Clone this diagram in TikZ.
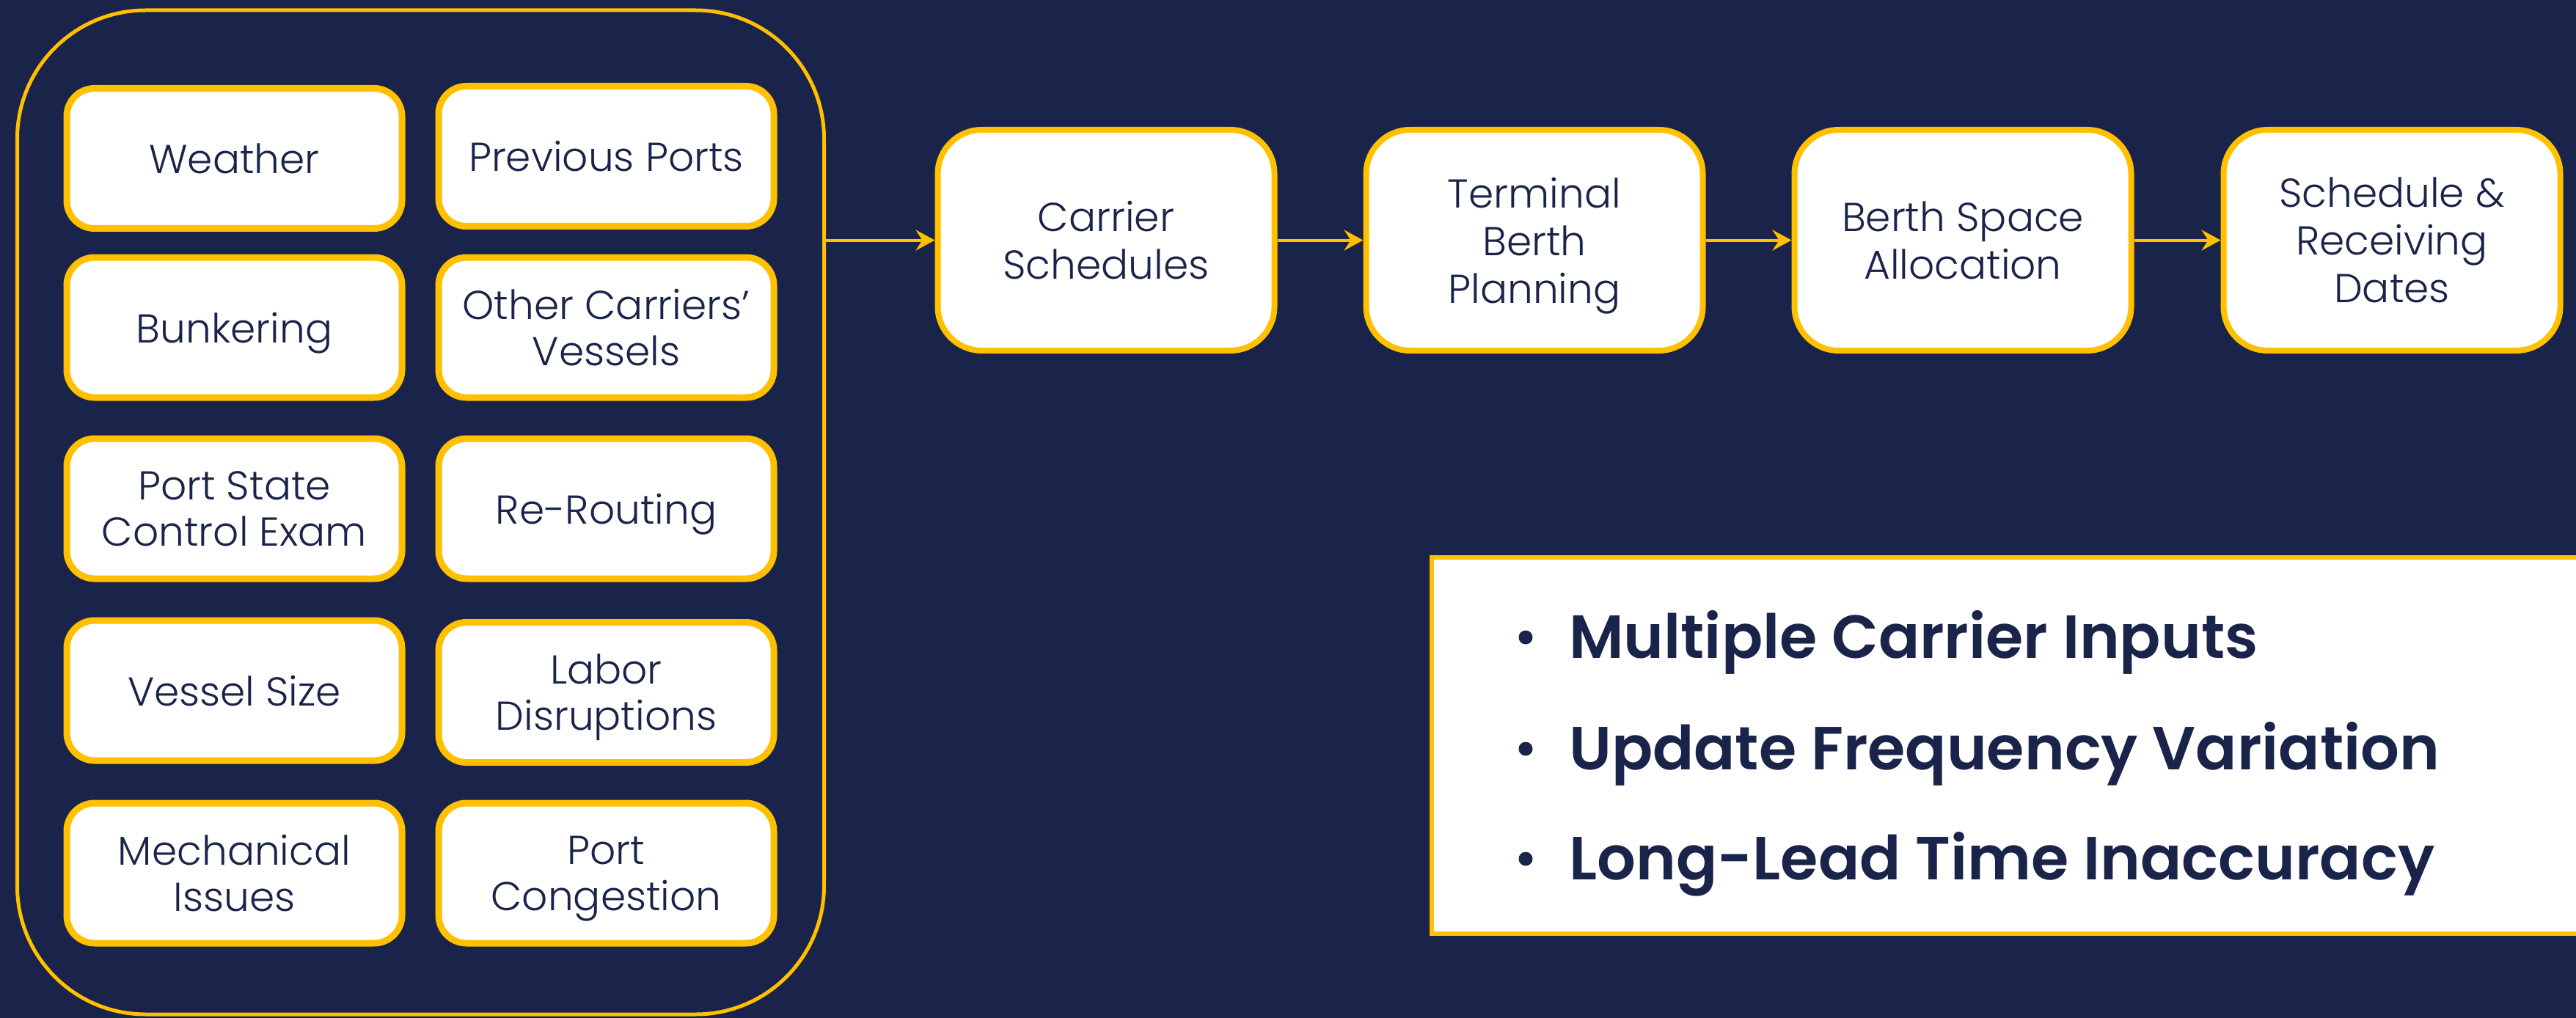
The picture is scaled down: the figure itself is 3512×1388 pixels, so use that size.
\documentclass[tikz,border=0pt]{standalone}
\usepackage{fontspec}
\setmainfont{Poppins}[UprightFont=* Light, BoldFont=* SemiBold]
\usetikzlibrary{arrows.meta}
\definecolor{navy}{HTML}{1A2349}
\definecolor{gold}{HTML}{FFC000}
\tikzset{
  factor/.style={draw=gold, line width=9pt, fill=white, rounded corners=38pt,
    minimum width=457pt, minimum height=191pt, text=navy, align=center,
    font=\fontsize{55}{63}\selectfont, inner sep=0pt, text depth=0pt},
  flowbox/.style={draw=gold, line width=8pt, fill=white, rounded corners=60pt,
    minimum width=459pt, minimum height=301pt, text=navy, align=center,
    font=\fontsize{55}{65}\selectfont, inner sep=0pt, text depth=0pt},
  flowarrow/.style={draw=gold, line width=4pt, -{Stealth[length=26pt, width=28pt, inset=9pt]}},
  bullettext/.style={anchor=base west, text=navy, inner sep=0pt,
    font=\fontsize{83}{90}\selectfont\bfseries},
  bulletdot/.style={circle, fill=navy, minimum size=19pt, inner sep=0pt}
}
\begin{document}
\begin{tikzpicture}[x=1pt, y=-1pt]
\useasboundingbox (0,0) rectangle (3512,1388);
\fill[navy] (0,0) rectangle (3512,1388);
% container
\node[draw=gold, line width=5pt, rounded corners=175pt, minimum width=1100pt, minimum height=1369pt, inner sep=0pt] (cont) at (573.5,698.5) {};
% factor boxes
\node[factor] (weather) at (319.5,216) {Weather};
\node[factor] (prev) at (826.5,213) {Previous Ports};
\node[factor] (bunk) at (319.5,446.5) {Bunkering};
\node[factor] (other) at (826.5,446.5) {Other Carriers’\\Vessels};
\node[factor] (psc) at (319.5,693.5) {Port State\\Control Exam};
\node[factor] (rerout) at (826.5,693.5) {Re-Routing};
\node[factor] (vsize) at (319.5,941.5) {Vessel Size};
\node[factor] (labor) at (826.5,944) {Labor\\Disruptions};
\node[factor] (mech) at (319.5,1190.5) {Mechanical\\Issues};
\node[factor] (cong) at (826.5,1190.5) {Port\\Congestion};
% flow boxes
\node[flowbox] (cs) at (1508,327.5) {Carrier\\Schedules};
\node[flowbox] (tbp) at (2092,327.5) {Terminal\\Berth\\Planning};
\node[flowbox] (bsa) at (2676,327.5) {Berth Space\\Allocation};
\node[flowbox] (srd) at (3261,327.5) {Schedule \&\\Receiving\\Dates};
\coordinate (contout) at (cont.east |- cs.west);
\draw[flowarrow] (contout) -- (cs.west);
\draw[flowarrow] (cs.east) -- (tbp.west);
\draw[flowarrow] (tbp.east) -- (bsa.west);
\draw[flowarrow] (bsa.east) -- (srd.west);
% issues box
\node[draw=gold, line width=6pt, fill=white, anchor=north west, minimum width=1600pt, minimum height=513pt, inner sep=0pt] (issues) at (1949,757) {};
\node[bulletdot] (d1) at (2080,869) {};
\node[bulletdot] (d2) at (2080,1021) {};
\node[bulletdot] (d3) at (2080,1171) {};
\node[bullettext] (t1) at (2139,897) {Multiple Carrier Inputs};
\node[bullettext] (t2) at (2139,1049) {Update Frequency Variation};
\node[bullettext] (t3) at (2139,1199) {Long-Lead Time Inaccuracy};
\end{tikzpicture}
\end{document}
